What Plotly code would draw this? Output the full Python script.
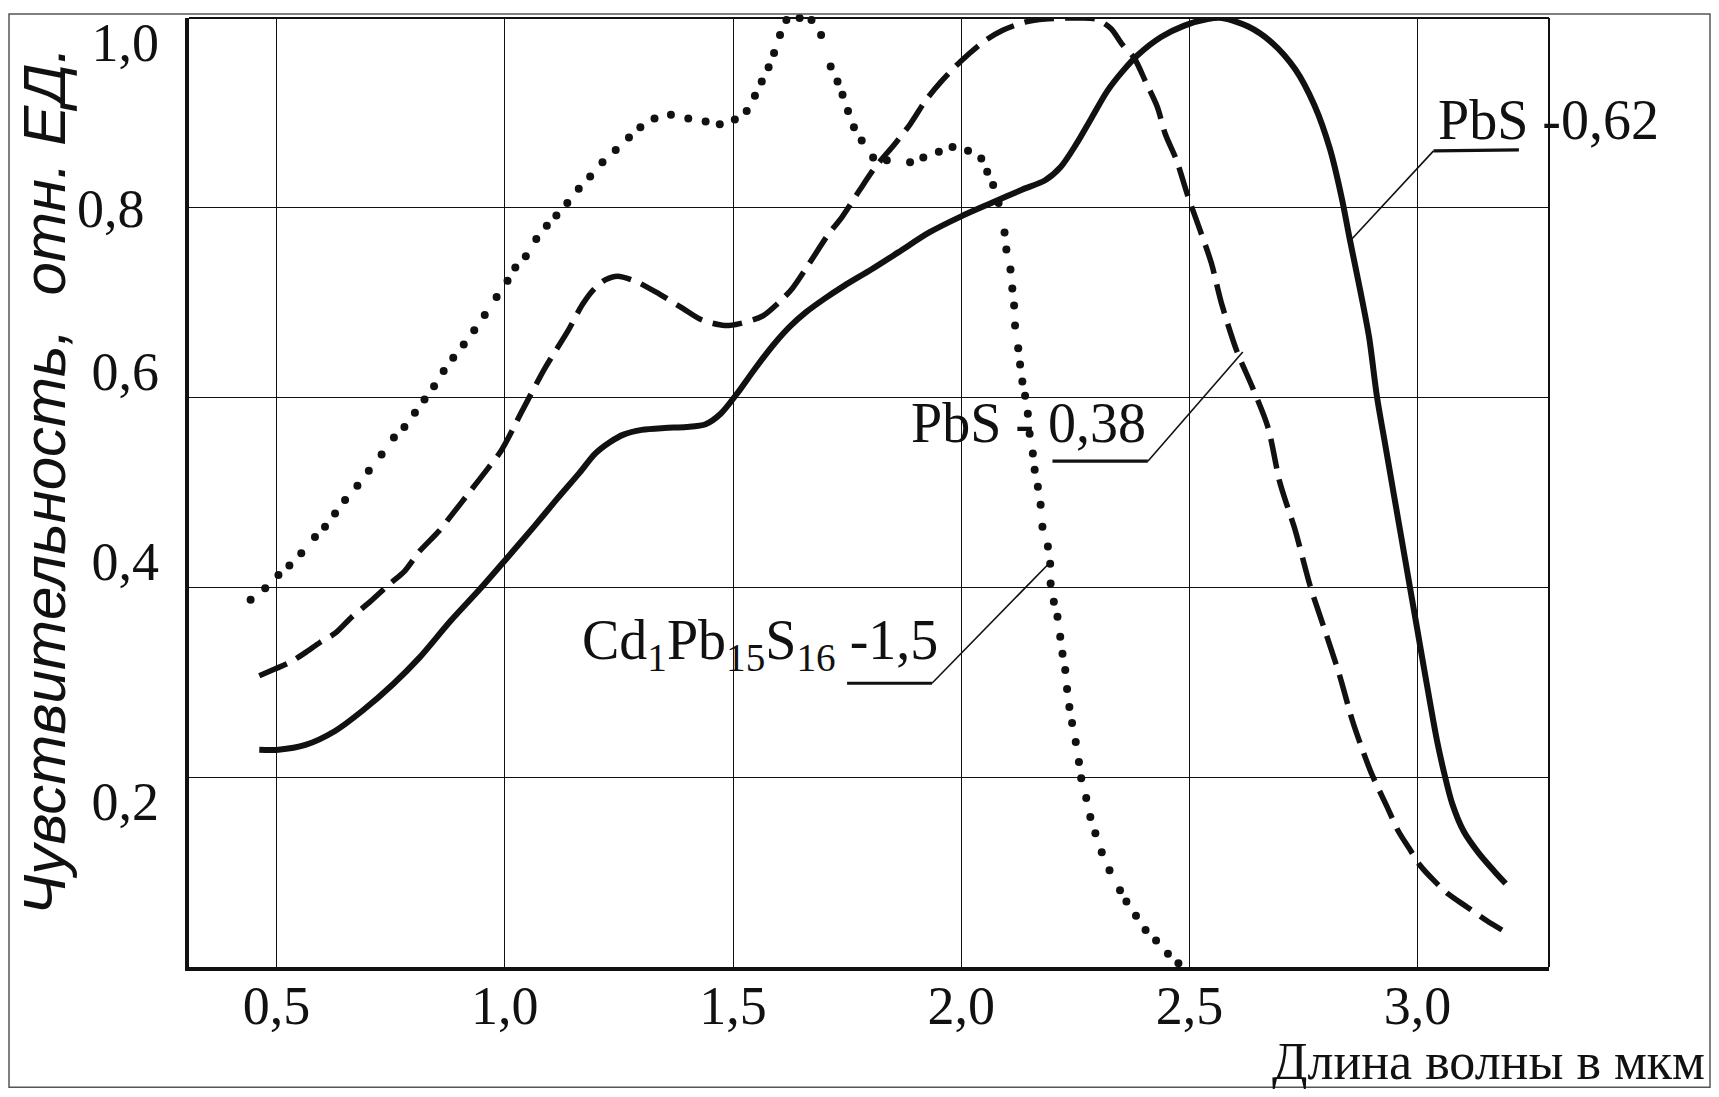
import plotly.graph_objects as go

# ---------------- data ----------------
x_tick_vals = [0.5, 1.0, 1.5, 2.0, 2.5, 3.0]
x_tick_text = ["0,5", "1,0", "1,5", "2,0", "2,5", "3,0"]
y_mid_vals = [0.8]
y_mid_text = ["0,8"]
y_low_vals = [0.2, 1.0]
y_low_text = ["0,2", "1,0"]
y_high_vals = [0.4, 0.6]
y_high_text = ["0,4", "0,6"]

# PbS - 0,62 (solid)
pbs062_x = [0.462, 0.504, 0.563, 0.629, 0.688, 0.755, 0.813, 0.880, 0.947, 1.005,
            1.064, 1.114, 1.164, 1.198, 1.230, 1.260, 1.300, 1.350, 1.398, 1.440,
            1.473, 1.507, 1.549, 1.591, 1.625, 1.660, 1.700, 1.744, 1.803, 1.862,
            1.930, 2.000, 2.066, 2.133, 2.184, 2.218, 2.252, 2.286, 2.320, 2.354,
            2.387, 2.438, 2.489, 2.540, 2.572, 2.629, 2.681, 2.732, 2.774, 2.808,
            2.834, 2.851, 2.876, 2.894, 2.911, 2.930, 2.948, 2.965, 2.983, 3.000,
            3.017, 3.042, 3.059, 3.076, 3.101, 3.134, 3.168, 3.193]
pbs062_y = [0.229, 0.229, 0.234, 0.249, 0.270, 0.298, 0.326, 0.364, 0.399, 0.431,
            0.464, 0.493, 0.521, 0.541, 0.553, 0.561, 0.566, 0.568, 0.569, 0.572,
            0.583, 0.603, 0.631, 0.657, 0.675, 0.690, 0.704, 0.718, 0.735, 0.753,
            0.774, 0.791, 0.805, 0.819, 0.829, 0.843, 0.867, 0.895, 0.923, 0.944,
            0.961, 0.980, 0.992, 0.999, 1.000, 0.991, 0.974, 0.946, 0.908, 0.862,
            0.810, 0.768, 0.709, 0.663, 0.601, 0.548, 0.498, 0.451, 0.401, 0.354,
            0.307, 0.240, 0.203, 0.172, 0.143, 0.120, 0.101, 0.088]

# PbS - 0,38 (dashed)
pbs038_x = [0.462, 0.496, 0.529, 0.562, 0.595, 0.629, 0.663, 0.705, 0.746, 0.780,
            0.813, 0.855, 0.888, 0.922, 0.964, 0.992, 1.038, 1.088, 1.138, 1.170,
            1.195, 1.220, 1.247, 1.289, 1.339, 1.390, 1.431, 1.482, 1.515, 1.565,
            1.600, 1.630, 1.668, 1.706, 1.740, 1.778, 1.812, 1.854, 1.888, 1.922,
            1.956, 1.998, 2.049, 2.091, 2.142, 2.184, 2.252, 2.294, 2.328, 2.353,
            2.379, 2.404, 2.430, 2.447, 2.472, 2.497, 2.523, 2.548, 2.570, 2.604,
            2.638, 2.672, 2.698, 2.715, 2.732, 2.765, 2.794, 2.828, 2.857, 2.874,
            2.899, 2.933, 2.958, 2.983, 3.004, 3.034, 3.067, 3.109, 3.151, 3.185]
pbs038_y = [0.307, 0.314, 0.321, 0.331, 0.342, 0.352, 0.368, 0.385, 0.403, 0.417,
            0.438, 0.459, 0.479, 0.500, 0.526, 0.544, 0.586, 0.631, 0.670, 0.698,
            0.714, 0.724, 0.728, 0.722, 0.709, 0.694, 0.682, 0.676, 0.678, 0.686,
            0.700, 0.715, 0.742, 0.770, 0.791, 0.819, 0.843, 0.867, 0.888, 0.913,
            0.933, 0.954, 0.975, 0.987, 0.996, 0.999, 1.000, 0.999, 0.989, 0.972,
            0.958, 0.933, 0.906, 0.878, 0.850, 0.812, 0.777, 0.742, 0.700, 0.649,
            0.611, 0.569, 0.511, 0.485, 0.460, 0.401, 0.359, 0.309, 0.260, 0.236,
            0.204, 0.169, 0.143, 0.124, 0.108, 0.092, 0.077, 0.063, 0.049, 0.039]

# Cd1Pb15S16 - 1,5 (dotted)
cdpbs_x = [0.443, 0.475, 0.504, 0.528, 0.554, 0.584, 0.606, 0.628, 0.650, 0.677,
           0.702, 0.730, 0.757, 0.780, 0.803, 0.824, 0.845, 0.866, 0.887, 0.910,
           0.933, 0.956, 0.982, 1.006, 1.023, 1.046, 1.069, 1.092, 1.113, 1.137,
           1.162, 1.187, 1.214, 1.243, 1.272, 1.297, 1.328, 1.364, 1.402, 1.440,
           1.471, 1.504, 1.530, 1.548, 1.563, 1.578, 1.590, 1.603, 1.617, 1.646,
           1.672, 1.693, 1.714, 1.729, 1.740, 1.752, 1.765, 1.782, 1.807, 1.837,
           1.888, 1.917, 1.951, 1.981, 2.015, 2.044, 2.057, 2.070, 2.082, 2.095,
           2.099, 2.108, 2.112, 2.116, 2.118, 2.125, 2.129, 2.134, 2.140, 2.146,
           2.150, 2.157, 2.161, 2.168, 2.174, 2.178, 2.190, 2.195, 2.196, 2.203,
           2.211, 2.217, 2.222, 2.228, 2.232, 2.237, 2.243, 2.251, 2.258, 2.263,
           2.274, 2.283, 2.294, 2.308, 2.325, 2.348, 2.362, 2.383, 2.404, 2.427,
           2.453, 2.476]
cdpbs_y = [0.387, 0.399, 0.413, 0.423, 0.436, 0.453, 0.464, 0.478, 0.492, 0.507,
           0.523, 0.540, 0.558, 0.569, 0.584, 0.598, 0.612, 0.628, 0.642, 0.656,
           0.671, 0.687, 0.706, 0.723, 0.737, 0.749, 0.767, 0.781, 0.792, 0.805,
           0.820, 0.833, 0.848, 0.861, 0.874, 0.885, 0.894, 0.898, 0.894, 0.891,
           0.888, 0.893, 0.902, 0.918, 0.933, 0.948, 0.963, 0.982, 0.998, 1.000,
           0.998, 0.982, 0.949, 0.933, 0.919, 0.902, 0.885, 0.871, 0.853, 0.850,
           0.848, 0.853, 0.859, 0.864, 0.860, 0.852, 0.838, 0.824, 0.805, 0.774,
           0.756, 0.735, 0.715, 0.697, 0.676, 0.652, 0.635, 0.617, 0.602, 0.583,
           0.562, 0.541, 0.524, 0.506, 0.487, 0.464, 0.443, 0.425, 0.404, 0.385,
           0.369, 0.348, 0.330, 0.313, 0.293, 0.274, 0.257, 0.237, 0.216, 0.199,
           0.178, 0.158, 0.141, 0.121, 0.102, 0.081, 0.069, 0.054, 0.039, 0.028,
           0.014, 0.004]

label_062 = "PbS -0,62"
label_038 = "PbS - 0,38"
label_cd = "Cd<sub>1</sub>Pb<sub>15</sub>S<sub>16</sub> -1,5"
x_title = "Длина волны в мкм"
y_title = "Чувствительность,  отн. ЕД."

X_RANGE = [0.308, 3.288]
Y_RANGE = [0.0, 1.0]

SERIF = "Liberation Serif, Times New Roman, serif"
INK = "#111111"

# The page body has an 8px margin; the figure is sized so that the plot
# area still sits where it sits in the reference and nothing overflows.
FIG_W, FIG_H = 1703, 1081
M_L, M_R, M_T, M_B = 181, 162, 5, 122

fig = go.Figure()
fig.add_trace(go.Scatter(x=pbs062_x, y=pbs062_y, mode="lines", yaxis="y",
                         line=dict(color=INK, width=6, shape="spline", smoothing=0.8),
                         cliponaxis=False, showlegend=False, hoverinfo="skip"))
fig.add_trace(go.Scatter(x=pbs038_x, y=pbs038_y, mode="lines", yaxis="y2",
                         line=dict(color=INK, width=5.5, dash="30px,11px",
                                   shape="spline", smoothing=0.8),
                         cliponaxis=False, showlegend=False, hoverinfo="skip"))
fig.add_trace(go.Scatter(x=cdpbs_x, y=cdpbs_y, mode="markers", yaxis="y3",
                         marker=dict(color=INK, size=8), cliponaxis=False,
                         showlegend=False, hoverinfo="skip"))

tick_font = dict(family=SERIF, size=54, color=INK)
grid = dict(showgrid=True, gridcolor=INK, gridwidth=1.4, zeroline=False)

fig.update_layout(
    width=FIG_W, height=FIG_H,
    margin=dict(l=M_L, r=M_R, t=M_T, b=M_B),
    paper_bgcolor="white", plot_bgcolor="white",
    showlegend=False,
    xaxis=dict(range=X_RANGE, tickvals=x_tick_vals, ticktext=x_tick_text, **grid,
               showline=True, linecolor=INK, linewidth=3.5, ticks="",
               tickfont=tick_font, ticklabelstandoff=-12, fixedrange=True),
    yaxis=dict(range=Y_RANGE, tickvals=y_mid_vals, ticktext=y_mid_text, **grid,
               showline=True, linecolor=INK, linewidth=3.5, ticks="",
               tickfont=tick_font, ticklabelstandoff=30, fixedrange=True),
    yaxis2=dict(range=Y_RANGE, overlaying="y", side="left", anchor="x",
                tickvals=y_low_vals, ticktext=y_low_text, **grid,
                showline=False, ticks="", ticklabelposition="outside bottom",
                ticklabelshift=-14, ticklabeloverflow="allow",
                tickfont=tick_font, ticklabelstandoff=29, fixedrange=True),
    yaxis3=dict(range=Y_RANGE, overlaying="y", side="left", anchor="x",
                tickvals=y_high_vals, ticktext=y_high_text, **grid,
                showline=False, ticks="", ticklabelposition="outside top",
                ticklabelshift=11,
                tickfont=tick_font, ticklabelstandoff=29, fixedrange=True),
)

PW = FIG_W - M_L - M_R
PH = FIG_H - M_T - M_B

# frame: top and right edges (thinner than the main axes)
fig.add_shape(type="line", xref="paper", yref="paper", x0=0, x1=1, y0=1, y1=1,
              line=dict(color=INK, width=2))
fig.add_shape(type="line", xref="paper", yref="paper", x0=1, x1=1, y0=0, y1=1,
              line=dict(color=INK, width=2))
# thin border round the picture
fig.add_shape(type="rect", xref="paper", yref="paper",
              x0=-(M_L - 1) / PW, x1=1 + (M_R - 1) / PW,
              y0=-(M_B - 1) / PH, y1=1 + (M_T - 1) / PH,
              line=dict(color="#555555", width=1.5))

ann_font = dict(family=SERIF, size=56, color=INK)

# curve labels
fig.add_annotation(x=3.040, y=0.892, xref="x", yref="y", text=label_062,
                   showarrow=False, xanchor="left", yanchor="middle", font=ann_font)
fig.add_annotation(x=1.885, y=0.573, xref="x", yref="y", text=label_038,
                   showarrow=False, xanchor="left", yanchor="middle", font=ann_font)
fig.add_annotation(x=1.165, y=0.340, xref="x", yref="y", text=label_cd,
                   showarrow=False, xanchor="left", yanchor="middle", font=ann_font)

# leader lines with underlines
fig.add_shape(type="path", xref="x", yref="y",
              path="M 2.852,0.765 L 3.035,0.860", line=dict(color=INK, width=1.6))
fig.add_shape(type="path", xref="x", yref="y",
              path="M 3.035,0.860 L 3.222,0.861", line=dict(color=INK, width=3.2))
fig.add_shape(type="path", xref="x", yref="y",
              path="M 2.409,0.533 L 2.617,0.648", line=dict(color=INK, width=1.6))
fig.add_shape(type="path", xref="x", yref="y",
              path="M 2.200,0.533 L 2.409,0.533", line=dict(color=INK, width=3.2))
fig.add_shape(type="path", xref="x", yref="y",
              path="M 1.936,0.299 L 2.194,0.426", line=dict(color=INK, width=1.6))
fig.add_shape(type="path", xref="x", yref="y",
              path="M 1.750,0.299 L 1.936,0.299", line=dict(color=INK, width=3.2))

# axis titles
fig.add_annotation(x=(1707 - 189) / PW, y=-0.1, xref="paper", yref="paper",
                   text=x_title, showarrow=False, xanchor="right", yanchor="middle",
                   font=dict(family=SERIF, size=52, color=INK))
fig.add_annotation(x=-0.1066, y=0.512, xref="paper", yref="paper", text=y_title,
                   showarrow=False, textangle=-90, xanchor="center", yanchor="middle",
                   borderpad=0,
                   font=dict(family="Liberation Sans, sans-serif",
                             size=60, color=INK, style="italic"))

fig.write_html("out.html")
